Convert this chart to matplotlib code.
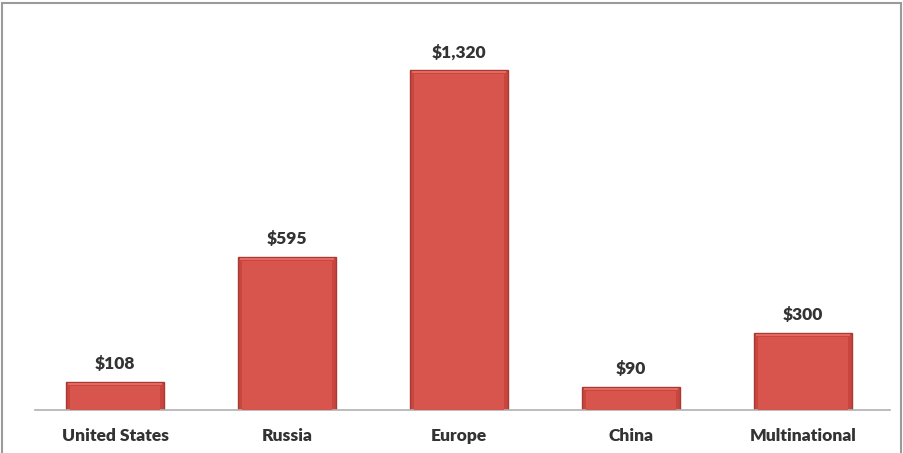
import numpy as np
import matplotlib.pyplot as plt
import matplotlib.patches as patches

# spending by region, millions of dollars
regions = ["United States", "Russia", "Europe", "China", "Multinational"]
spending = [108, 595, 1320, 90, 300]
value_labels = ["$108", "$595", "$1,320", "$90", "$300"]

plt.rcParams['font.family'] = ['Lato', 'DejaVu Sans']

fig = plt.figure(figsize=(9.04, 4.53), dpi=100)
fig.patch.set_facecolor('white')

# grey frame around the figure (bottom edge runs off the image)
frame = patches.Rectangle((2 / 904, -0.05), 899 / 904, 1.05 - 3 / 453,
                          transform=fig.transFigure, fill=False,
                          edgecolor='#9a9a9a', linewidth=1.5)
fig.patches.append(frame)

ax = fig.add_axes([35 / 904, 43 / 453, 855 / 904, 370 / 453])
x = np.arange(len(regions))
bar_w = 0.57

ymax = 1320 * 370 / 340
ax.set_ylim(0, ymax)
ax.set_xlim(-80 / 172, 775 / 172)

bars = ax.bar(x, spending, width=bar_w, color='#c9463f',
              edgecolor='#a63a34', linewidth=1.0, zorder=2)

# lighter inner panel to give the bars a bevelled look
px_x = 1 / 172
px_y = ymax / 370
for b in bars:
    h = b.get_height()
    ax.add_patch(patches.Rectangle((b.get_x() + 4 * px_x, 0),
                                   b.get_width() - 8 * px_x, h - 4 * px_y,
                                   facecolor='#d8554d', edgecolor='none', zorder=3))
    ax.add_patch(patches.Rectangle((b.get_x() + 2 * px_x, h - 3 * px_y),
                                   b.get_width() - 4 * px_x, 2 * px_y,
                                   facecolor='#e46a61', edgecolor='none', zorder=3))

for xi, v, lab in zip(x, spending, value_labels):
    ax.annotate(lab, (xi, v), xytext=(0, 7), textcoords='offset points',
                ha='center', va='bottom', fontsize=12.5, fontweight='heavy',
                color='#333333')

ax.set_xticks(x)
ax.set_xticklabels(regions, fontsize=12.5, fontweight='heavy', color='#333333')
ax.tick_params(axis='x', length=0, pad=13)
ax.set_yticks([])

for side in ['top', 'right', 'left']:
    ax.spines[side].set_visible(False)
ax.spines['bottom'].set_color('#b0b0b0')
ax.spines['bottom'].set_linewidth(1.2)

fig.savefig('out.png', dpi=100, facecolor='white')
